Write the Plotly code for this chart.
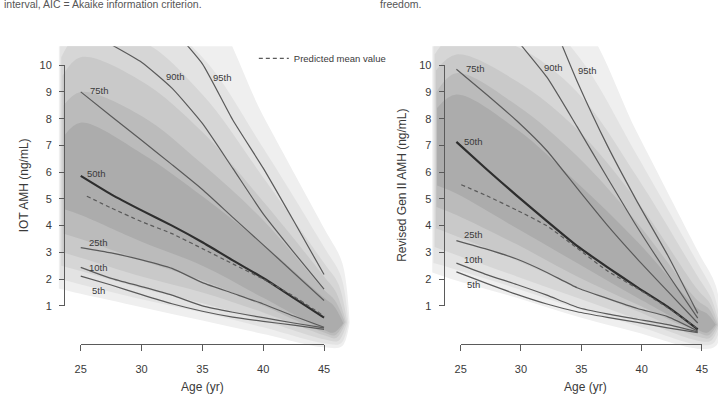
import plotly.graph_objects as go

# ---------------- data ----------------
AGE = [25, 27.5, 30, 32.5, 35, 37.5, 40, 42.5, 45]
PCT_LABELS = ["5th", "10th", "25th", "50th", "75th", "90th", "95th"]

# Left panel: IOT AMH (ng/mL)
IOT_P5 = [2.11, 1.78, 1.42, 1.08, 0.80, 0.58, 0.42, 0.28, 0.12]
IOT_P10 = [2.44, 2.03, 1.72, 1.40, 1.00, 0.76, 0.56, 0.36, 0.18]
IOT_P25 = [3.18, 2.98, 2.72, 2.40, 1.87, 1.47, 1.07, 0.62, 0.20]
IOT_P50 = [5.86, 5.17, 4.57, 4.00, 3.38, 2.70, 2.04, 1.30, 0.56]
IOT_P75 = [9.00, 8.09, 7.19, 6.28, 5.35, 4.31, 3.28, 2.24, 1.20]
IOT_P90 = [11.40, 10.77, 10.11, 9.14, 7.82, 6.14, 4.44, 3.01, 1.63]
IOT_P95 = [15.50, 14.10, 12.75, 11.40, 10.05, 7.95, 6.15, 4.18, 2.17]
IOT_MEAN_AGE = [25.5, 27.5, 30, 32.5, 35, 37.5, 40, 42.5, 45]
IOT_MEAN = [5.10, 4.66, 4.15, 3.70, 3.14, 2.57, 2.00, 1.36, 0.62]
IOT_LABEL_AGE = [26.5, 26.43, 26.43, 26.3, 26.56, 32.83, 36.67]
IOT_LABEL_VAL = [1.59, 2.44, 3.38, 5.95, 9.07, 9.59, 9.52]

# Right panel: Revised Gen II AMH (ng/mL)
GEN_P5 = [2.27, 1.84, 1.43, 1.07, 0.78, 0.57, 0.38, 0.18, 0.00]
GEN_P10 = [2.60, 2.17, 1.80, 1.40, 0.95, 0.70, 0.50, 0.30, 0.03]
GEN_P25 = [3.44, 3.12, 2.75, 2.25, 1.68, 1.28, 0.90, 0.60, 0.06]
GEN_P50 = [7.13, 6.11, 5.12, 4.17, 3.24, 2.45, 1.69, 0.97, 0.12]
GEN_P75 = [9.85, 8.90, 7.92, 6.80, 5.40, 4.02, 2.75, 1.55, 0.36]
GEN_P90 = [13.80, 12.40, 10.95, 9.55, 7.70, 5.80, 3.93, 2.20, 0.54]
GEN_P95 = [19.50, 17.00, 14.50, 12.10, 9.40, 7.00, 4.88, 2.90, 0.72]
GEN_MEAN_AGE = [25.4, 27.5, 30, 32.5, 35, 37.5, 40, 42.5, 45]
GEN_MEAN = [5.53, 5.12, 4.58, 3.99, 3.16, 2.31, 1.65, 0.93, 0.15]
GEN_LABEL_AGE = [26.39, 26.39, 26.39, 26.39, 26.57, 33.04, 35.9]
GEN_LABEL_VAL = [1.79, 2.72, 3.65, 7.13, 9.89, 9.91, 9.79]

# Density shading (outer -> inner): ages, upper edge, lower edge
IOT_SH_AGE = [
    [23.2, 25, 30, 35, 40, 45, 46.5, 47.1],
    [23.3, 25, 30, 35, 40, 45, 46.4, 47.0],
    [23.4, 25, 30, 35, 40, 45, 46.2, 46.9],
    [23.5, 25, 30, 35, 40, 45, 46.0, 46.8],
    [23.6, 25, 30, 35, 40, 45, 45.9, 46.7],
    [23.7, 25, 30, 35, 40, 45, 45.8, 46.6],
]
IOT_SH_UP = [
    [13.0, 13.0, 13.0, 12.4, 8.1, 3.9, 2.6, 0.4],
    [11.0, 12.0, 12.0, 10.3, 6.9, 3.2, 2.1, 0.4],
    [10.3, 11.2, 10.9, 8.9, 5.8, 2.6, 1.8, 0.4],
    [9.6, 10.3, 9.4, 7.5, 4.9, 2.1, 1.5, 0.4],
    [8.5, 9.0, 8.1, 6.3, 4.2, 1.6, 1.2, 0.4],
    [7.4, 7.85, 6.7, 5.1, 3.3, 1.3, 1.0, 0.35],
]
IOT_SH_LO = [
    [1.65, 1.45, 0.95, 0.45, -0.05, -0.55, -0.5, 0.4],
    [2.0, 1.8, 1.25, 0.75, 0.2, -0.4, -0.4, 0.4],
    [2.5, 2.3, 1.65, 1.1, 0.45, -0.25, -0.3, 0.4],
    [3.0, 2.8, 2.1, 1.5, 0.75, -0.1, -0.2, 0.4],
    [3.7, 3.5, 2.7, 1.95, 1.0, 0.0, -0.1, 0.4],
    [4.6, 4.4, 3.4, 2.5, 1.3, 0.1, 0.0, 0.35],
]
GEN_SH_AGE = [
    [23.0, 25, 30, 35, 40, 45, 46.5, 47.0],
    [23.1, 25, 30, 35, 40, 45, 46.3, 46.9],
    [23.2, 25, 30, 35, 40, 45, 46.1, 46.8],
    [23.3, 25, 30, 35, 40, 45, 46.0, 46.7],
    [23.35, 25, 30, 35, 40, 45, 45.9, 46.6],
    [23.4, 25, 30, 35, 40, 45, 45.8, 46.5],
]
GEN_SH_UP = [
    [13.0, 13.0, 13.0, 11.85, 7.45, 3.05, 1.75, 0.3],
    [11.2, 12.0, 12.5, 10.4, 6.6, 2.6, 1.5, 0.3],
    [10.4, 11.2, 10.7, 9.0, 5.8, 2.1, 1.3, 0.3],
    [9.8, 10.4, 9.4, 7.6, 4.9, 1.6, 1.1, 0.3],
    [9.0, 9.7, 8.5, 6.6, 4.1, 1.2, 0.9, 0.3],
    [8.4, 8.9, 7.6, 5.6, 3.4, 0.9, 0.7, 0.3],
]
GEN_SH_LO = [
    [2.25, 1.95, 1.3, 0.6, 0.0, -0.6, -0.5, 0.3],
    [2.6, 2.35, 1.65, 0.9, 0.25, -0.45, -0.4, 0.3],
    [3.2, 2.9, 2.1, 1.3, 0.5, -0.3, -0.3, 0.3],
    [3.9, 3.6, 2.7, 1.7, 0.8, -0.15, -0.2, 0.3],
    [4.7, 4.4, 3.3, 2.1, 1.05, 0.0, -0.1, 0.3],
    [5.5, 5.2, 3.9, 2.6, 1.3, 0.1, 0.0, 0.3],
]
SH_COLORS = ["#efefef", "#e3e3e3", "#d6d6d6", "#c9c9c9", "#bbbbbb", "#acacac"]

X_TICKS = [25, 30, 35, 40, 45]
Y_TICKS = [1, 2, 3, 4, 5, 6, 7, 8, 9, 10]

# ---------------- layout geometry (pixels) ----------------
W, H = 724, 406
FONT = "Liberation Sans Narrow, Arial Narrow, Liberation Sans, Arial, sans-serif"
TXT = "#3a3a3a"
LINE = "#5a5a5a"


def fx(px):
    return px / W


def fy(py):
    return 1 - py / H


PY_V1, PY_PER = 309.0, 27.56      # pixel of value 1, pixels per unit
PY_TOP, PY_BOT = 41.5, 362.0


def yrange():
    return [1 - (PY_BOT - PY_V1) / PY_PER, 1 + (PY_V1 - PY_TOP) / PY_PER]


panels = [
    dict(px25=76.0, pxyr=12.37, dom=(40, 360), axpx25=76.0, yaxis_px=59.0,
         P=[IOT_P5, IOT_P10, IOT_P25, IOT_P50, IOT_P75, IOT_P90, IOT_P95],
         mean_age=IOT_MEAN_AGE, mean=IOT_MEAN, lab_age=IOT_LABEL_AGE, lab_val=IOT_LABEL_VAL,
         sh_age=IOT_SH_AGE, sh_up=IOT_SH_UP, sh_lo=IOT_SH_LO,
         ytitle="IOT AMH (ng/mL)", ytitle_px=18, xtitle_px=200),
    dict(px25=458.0, pxyr=12.27, dom=(405, 724), axpx25=462.3, yaxis_px=445.0,
         P=[GEN_P5, GEN_P10, GEN_P25, GEN_P50, GEN_P75, GEN_P90, GEN_P95],
         mean_age=GEN_MEAN_AGE, mean=GEN_MEAN, lab_age=GEN_LABEL_AGE, lab_val=GEN_LABEL_VAL,
         sh_age=GEN_SH_AGE, sh_up=GEN_SH_UP, sh_lo=GEN_SH_LO,
         ytitle="Revised Gen II AMH (ng/mL)", ytitle_px=402, xtitle_px=589),
]

fig = go.Figure()
layout = dict(
    width=W, height=H, margin=dict(l=0, r=0, t=0, b=0, pad=0),
    paper_bgcolor="white", plot_bgcolor="rgba(0,0,0,0)",
    font=dict(family=FONT, color=TXT, size=11),
    showlegend=True,
    legend=dict(x=fx(252), y=fy(54), xanchor="left", yanchor="middle",
                bgcolor="rgba(0,0,0,0)", font=dict(size=9.5, color=TXT),
                itemwidth=30, tracegroupgap=0),
)
annotations = []

for i, p in enumerate(panels):
    n = i * 2
    xd = "x" if n == 0 else f"x{n + 1}"
    yd = "y" if n == 0 else f"y{n + 1}"
    xv = f"x{n + 2}"
    yv = f"y{n + 2}"
    xd_key = "xaxis" if n == 0 else f"xaxis{n + 1}"
    yd_key = "yaxis" if n == 0 else f"yaxis{n + 1}"
    xv_key = f"xaxis{n + 2}"
    yv_key = f"yaxis{n + 2}"

    d0, d1 = p["dom"]
    xr = [25 + (d0 - p["px25"]) / p["pxyr"], 25 + (d1 - p["px25"]) / p["pxyr"]]
    layout[xd_key] = dict(domain=[fx(d0), fx(d1)], range=xr, visible=False,
                          anchor=yd, fixedrange=True)
    layout[yd_key] = dict(domain=[fy(PY_BOT), fy(PY_TOP)], range=yrange(), visible=False,
                          anchor=xd, fixedrange=True)

    # visible (R style, detached) axes
    x45px = p["axpx25"] + 20 * p["pxyr"]
    layout[xv_key] = dict(domain=[fx(p["axpx25"]), fx(x45px)], range=[25, 45],
                          anchor="free", position=fy(348), showline=True, linecolor=LINE,
                          linewidth=1, ticks="outside", ticklen=6, tickwidth=1, tickcolor=LINE,
                          tickvals=X_TICKS, showgrid=False, zeroline=False,
                          tickfont=dict(size=11, color=TXT), ticklabelstandoff=9,
                          fixedrange=True)
    y1px = PY_V1
    y10px = PY_V1 - 9 * PY_PER
    layout[yv_key] = dict(domain=[fy(y1px), fy(y10px)], range=[1, 10],
                          anchor="free", position=fx(p["yaxis_px"]), showline=True,
                          linecolor=LINE, linewidth=1, ticks="outside", ticklen=5, tickwidth=1,
                          tickcolor=LINE, tickvals=Y_TICKS, showgrid=False, zeroline=False,
                          tickfont=dict(size=11, color=TXT), ticklabelstandoff=5,
                          fixedrange=True)
    fig.add_trace(go.Scatter(x=[25, 45], y=[1, 10], mode="markers",
                             marker=dict(opacity=0), xaxis=xv, yaxis=yv,
                             showlegend=False, hoverinfo="skip"))

    # density shading
    for ages, up, lo, col in zip(p["sh_age"], p["sh_up"], p["sh_lo"], SH_COLORS):
        xs = list(ages) + list(reversed(ages))
        ys = list(up) + list(reversed(lo))
        fig.add_trace(go.Scatter(x=xs, y=ys, mode="lines", fill="toself",
                                 fillcolor=col, line=dict(width=0, color=col, shape="spline",
                                                          smoothing=1.0),
                                 xaxis=xd, yaxis=yd, showlegend=False, hoverinfo="skip"))

    # percentile lines
    for name, vals in zip(PCT_LABELS, p["P"]):
        is50 = name == "50th"
        fig.add_trace(go.Scatter(x=AGE, y=vals, mode="lines", name=name,
                                 line=dict(color="#2e2e2e" if is50 else LINE,
                                           width=2.2 if is50 else 1.2, shape="spline",
                                           smoothing=0.5),
                                 xaxis=xd, yaxis=yd, showlegend=False))
    fig.add_trace(go.Scatter(x=p["mean_age"], y=p["mean"], mode="lines",
                             name="Predicted mean value",
                             line=dict(color=LINE, width=1.2, dash="4px,3px", shape="spline",
                                       smoothing=0.5),
                             xaxis=xd, yaxis=yd, showlegend=(i == 0)))

    for name, a, v in zip(PCT_LABELS, p["lab_age"], p["lab_val"]):
        annotations.append(dict(x=a, y=v, xref=xd, yref=yd, text=name, showarrow=False,
                                xanchor="center", yanchor="middle",
                                font=dict(size=9.5, color=TXT)))

    annotations.append(dict(x=fx(p["ytitle_px"]), y=fy(185), xref="paper", yref="paper",
                            text=p["ytitle"], textangle=-90, showarrow=False,
                            xanchor="center", yanchor="middle",
                            font=dict(size=12, color=TXT)))
    annotations.append(dict(x=fx(p["xtitle_px"]), y=fy(393), xref="paper", yref="paper",
                            text="Age (yr)", showarrow=False, xanchor="center",
                            yanchor="middle", font=dict(size=12, color=TXT)))

# cut-off caption fragments at the top of the page
annotations.append(dict(x=fx(-4), y=1, xref="paper", yref="paper",
                        text="interval, AIC = Akaike information criterion.",
                        showarrow=False, xanchor="left", yanchor="middle", yshift=2,
                        font=dict(size=10.5, color="#555555")))
annotations.append(dict(x=fx(378), y=1, xref="paper", yref="paper",
                        text="freedom.", showarrow=False, xanchor="left",
                        yanchor="middle", yshift=2,
                        font=dict(size=10.5, color="#555555")))

layout["annotations"] = annotations
fig.update_layout(**layout)
fig.write_html("out.html")
